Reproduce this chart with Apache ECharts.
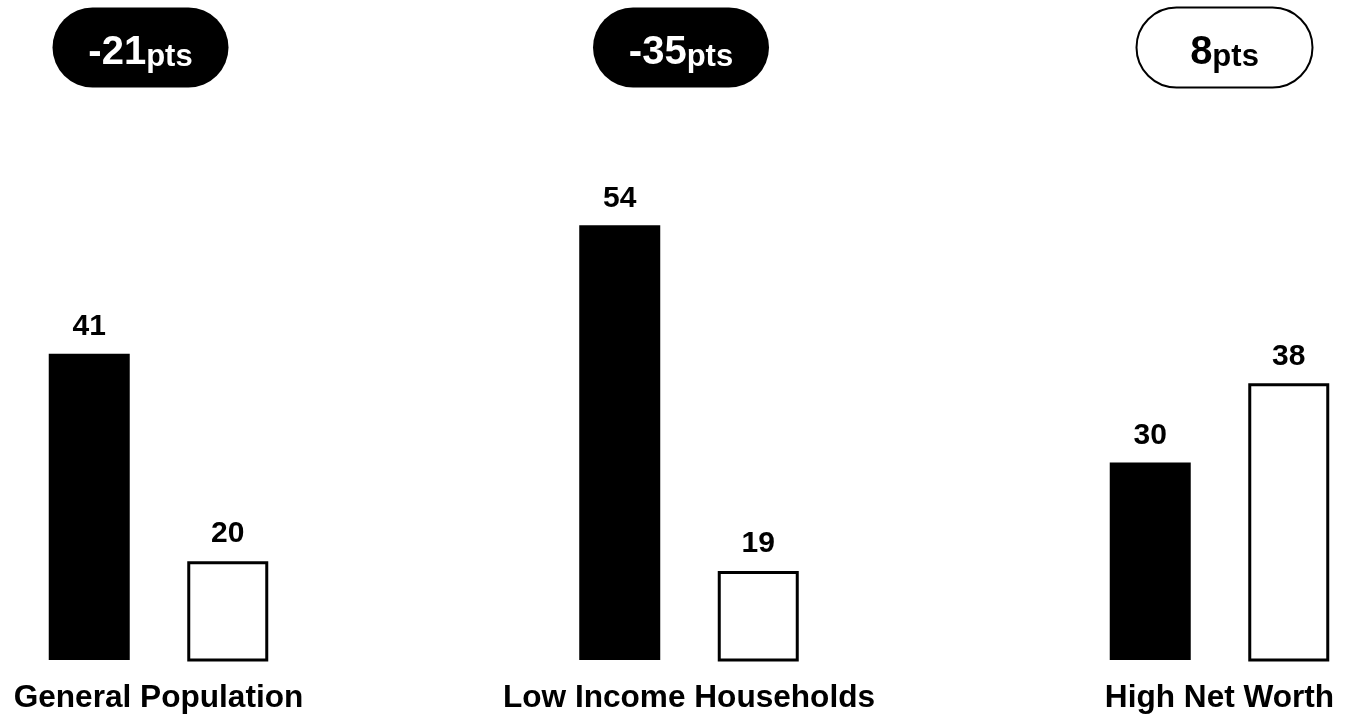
<!DOCTYPE html>
<html>
<head>
<meta charset="utf-8">
<script src="https://cdn.jsdelivr.net/npm/echarts@6/dist/echarts.min.js"></script>
<style>
html,body{margin:0;padding:0;background:#fff;}
#main{width:1345px;height:721px;}
</style>
</head>
<body>
<div id="main"></div>
<script>
const categories = ['General Population', 'Low Income Households', 'High Net Worth'];
const seriesA = [41, 54, 30];
const seriesB = [20, 19, 38];
const diffValues = ['-21', '-35', '8'];
const diffUnit = 'pts';
const diffPositive = [false, false, true];

const FONT = "'Liberation Sans', Arial, Helvetica, sans-serif";
const chart = echarts.init(document.getElementById('main'), null, {renderer: 'canvas'});

const pillCenters = [140.5, 681, 1224.5];
const pillGraphics = diffValues.map((v, i) => ({
  type: 'group',
  x: pillCenters[i],
  y: 47.5,
  children: [
    {
      type: 'rect',
      shape: {x: -88, y: -40, width: 176, height: 80, r: 40},
      style: diffPositive[i] ? {fill: '#fff', stroke: '#000', lineWidth: 2} : {fill: '#000'}
    },
    {
      type: 'text',
      style: {
        text: '{a|' + v + '}{b|' + diffUnit + '}',
        x: 0, y: 3,
        align: 'center', verticalAlign: 'middle',
        rich: {
          a: {fontSize: 40, fontWeight: 'bold', fontFamily: FONT, fill: diffPositive[i] ? '#000' : '#fff', verticalAlign: 'bottom', lineHeight: 44},
          b: {fontSize: 31, fontWeight: 'bold', fontFamily: FONT, fill: diffPositive[i] ? '#000' : '#fff', verticalAlign: 'bottom', lineHeight: 40}
        }
      }
    }
  ]
}));

const option = {
  animation: false,
  backgroundColor: '#fff',
  grid: {left: 158.5, right: 125.5, top: 166, bottom: 61, containLabel: false},
  xAxis: {
    type: 'category',
    data: categories,
    boundaryGap: false,
    axisLine: {show: false},
    axisTick: {show: false},
    axisLabel: {color: '#000', fontSize: 31.6, fontWeight: 'bold', fontFamily: FONT, margin: 22, interval: 0}
  },
  yAxis: {
    type: 'value',
    min: 10, max: 60,
    show: false,
    splitLine: {show: false}
  },
  series: [
    {
      type: 'bar',
      data: seriesA,
      barWidth: 81,
      barGap: '71%',
      itemStyle: {color: '#000'},
      label: {show: true, position: 'top', distance: 12, color: '#000', fontSize: 30, fontWeight: 'bold', fontFamily: FONT}
    },
    {
      type: 'bar',
      data: seriesB,
      barWidth: 81,
      itemStyle: {color: '#fff', borderColor: '#000', borderWidth: 3},
      label: {show: true, position: 'top', distance: 12, color: '#000', fontSize: 30, fontWeight: 'bold', fontFamily: FONT}
    }
  ],
  graphic: pillGraphics
};
chart.setOption(option);
</script>
</body>
</html>
